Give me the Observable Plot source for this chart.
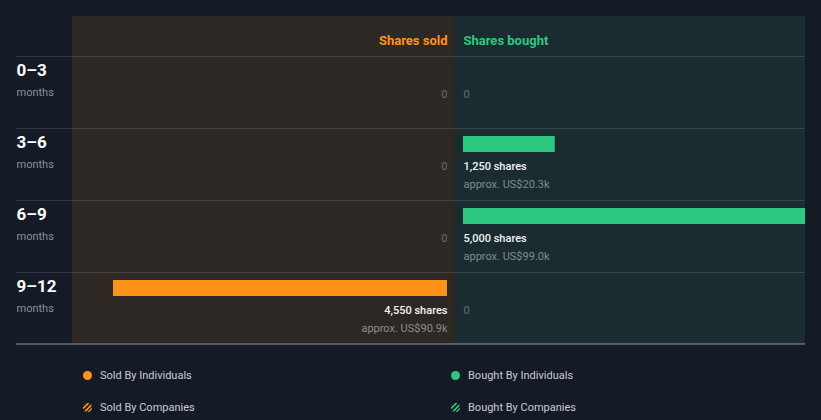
<!DOCTYPE html>
<html><head><meta charset="utf-8">
<script src="https://cdn.jsdelivr.net/npm/d3@7"></script>
<script src="https://cdn.jsdelivr.net/npm/@observablehq/plot@0.6"></script>
<style>
html,body{margin:0;padding:0;background:#151b26;}
#chart{position:relative;width:821px;height:420px;font-family:Roboto,sans-serif;overflow:hidden;}
#chart svg{display:block;background:transparent;}
.lg{position:absolute;display:flex;align-items:center;font-size:11px;color:#c9ccd1;font-family:Roboto,sans-serif;white-space:nowrap;}
.lg .dot{width:9px;height:9px;border-radius:50%;margin-right:8px;flex:none;}
</style></head><body><div id="chart"></div>
<script>
// ---- data ----
const periods = ["0–3", "3–6", "6–9", "9–12"];
const periodUnit = "months";
const soldShares = [0, 0, 0, 4550];
const boughtShares = [0, 1250, 5000, 0];
const soldValue = [null, null, null, "US$90.9k"];
const boughtValue = [null, "US$20.3k", "US$99.0k", null];
const sideTitles = ["Shares sold", "Shares bought"];
const legendLabels = ["Sold By Individuals", "Bought By Individuals", "Sold By Companies", "Bought By Companies"];

// ---- styles ----
const ORANGE = "#ff9319", GREEN = "#2ec980";
const BG_SOLD = "#2d2823", BG_BOUGHT = "#1a2c2f";
const xDomain = [-5217, 4768];
const fmt = d3.format(",");

const sold = periods.map((p, i) => ({period: p, shares: soldShares[i], value: soldValue[i]}));
const bought = periods.map((p, i) => ({period: p, shares: boughtShares[i], value: boughtValue[i]}));
const label = d => d.shares === 0 ? "0" : `${fmt(d.shares)} shares`;

const chart = Plot.plot({
  width: 821, height: 351,
  marginTop: 56, marginBottom: 7, marginLeft: 72, marginRight: 16,
  style: {background: "transparent", fontFamily: "Roboto, sans-serif"},
  x: {domain: xDomain, axis: null},
  y: {domain: periods, padding: 0, axis: null},
  marks: [
    Plot.rect([0], {x1: xDomain[0], x2: 0, fill: BG_SOLD, insetTop: -40}),
    Plot.rect([0], {x1: 0, x2: xDomain[1], fill: BG_BOUGHT, insetTop: -40}),
    Plot.ruleY(periods, {y: d => d, dy: -36, stroke: "#ffffff", strokeOpacity: 0.12, insetLeft: -56}),
    Plot.ruleY([periods[periods.length - 1]], {y: d => d, dy: 35.5, stroke: "#8e979d", insetLeft: -56}),
    Plot.barX(sold.filter(d => d.shares > 0), {x1: 0, x2: d => -d.shares, y: "period", dx: -8, insetTop: 8, insetBottom: 48, fill: ORANGE, clip: true}),
    Plot.barX(bought.filter(d => d.shares > 0), {x1: 0, x2: d => d.shares, y: "period", dx: 8, insetTop: 8, insetBottom: 48, fill: GREEN, clip: true}),
    // headers
    Plot.text([sideTitles[0]], {x: 0, frameAnchor: "top", dy: -21, dx: -8, text: d => d, textAnchor: "end", fill: ORANGE, fontWeight: "bold", fontSize: 13}),
    Plot.text([sideTitles[1]], {x: 0, frameAnchor: "top", dy: -21, dx: 8, text: d => d, textAnchor: "start", fill: GREEN, fontWeight: "bold", fontSize: 13}),
    // row labels
    Plot.text(periods, {y: d => d, frameAnchor: "left", dx: -56, dy: -22, text: d => d, textAnchor: "start", fill: "#ffffff", fontWeight: "bold", fontSize: 17}),
    Plot.text(periods, {y: d => d, frameAnchor: "left", dx: -56, dy: 0, text: () => periodUnit, textAnchor: "start", fill: "#8b9096", fontSize: 11}),
    // zero labels
    Plot.text(sold.filter(d => d.shares === 0), {x: 0, y: "period", dx: -8, dy: 2, text: label, textAnchor: "end", fill: "#6a6d70", fontSize: 11}),
    Plot.text(bought.filter(d => d.shares === 0), {x: 0, y: "period", dx: 8, dy: 2, text: label, textAnchor: "start", fill: "#5f6e6e", fontSize: 11}),
    // share labels
    Plot.text(sold.filter(d => d.shares > 0), {x: 0, y: "period", dx: -8, dy: 2, text: label, textAnchor: "end", fill: "#f4f4f4", fontSize: 11, fontWeight: 500}),
    Plot.text(bought.filter(d => d.shares > 0), {x: 0, y: "period", dx: 8, dy: 2, text: label, textAnchor: "start", fill: "#f4f4f4", fontSize: 11, fontWeight: 500}),
    Plot.text(sold.filter(d => d.value), {x: 0, y: "period", dx: -8, dy: 20, text: d => `approx. ${d.value}`, textAnchor: "end", fill: "#8a8d90", fontSize: 11}),
    Plot.text(bought.filter(d => d.value), {x: 0, y: "period", dx: 8, dy: 20, text: d => `approx. ${d.value}`, textAnchor: "start", fill: "#7f8c8c", fontSize: 11})
  ]
});
const root = document.getElementById("chart");
root.appendChild(chart);

// legend
const legendItems = [
  {label: legendLabels[0], left: 83, top: 369, bg: ORANGE},
  {label: legendLabels[1], left: 451, top: 369, bg: GREEN},
  {label: legendLabels[2], left: 83, top: 401, bg: `repeating-linear-gradient(135deg, ${ORANGE} 0 1.6px, #3a2a18 1.6px 3.2px)`},
  {label: legendLabels[3], left: 451, top: 401, bg: `repeating-linear-gradient(135deg, ${GREEN} 0 1.6px, #17302a 1.6px 3.2px)`}
];
for (const it of legendItems) {
  const el = document.createElement("div");
  el.className = "lg";
  el.style.left = it.left + "px";
  el.style.top = it.top + "px";
  el.style.height = "13px";
  const dot = document.createElement("span");
  dot.className = "dot";
  dot.style.background = it.bg;
  const t = document.createElement("span");
  t.textContent = it.label;
  el.appendChild(dot); el.appendChild(t);
  root.appendChild(el);
}
</script></body></html>
